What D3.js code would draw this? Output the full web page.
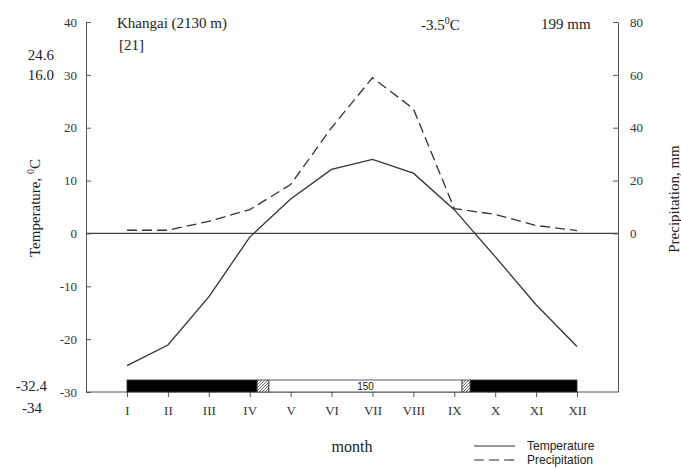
<!DOCTYPE html>
<html lang="en">
<head>
<meta charset="UTF-8" />
<title>Khangai climate diagram</title>
<script src="https://d3js.org/d3.v7.min.js"></script>
<style>
  body { margin: 0; background: #fff; }
  svg { display: block; }
  .serif { font-family: "Liberation Serif", "Times New Roman", serif; fill: #222; }
  .axis text { font-family: "Liberation Serif", "Times New Roman", serif; font-size: 13px; fill: #333; }
  .axis path, .axis line { stroke: #555; }
</style>
</head>
<body>
<script>
const months = ["I","II","III","IV","V","VI","VII","VIII","IX","X","XI","XII"];
const temperature = [-25.0, -21.1, -12.0, -0.7, 6.5, 12.1, 14.0, 11.4, 4.5, -4.4, -13.5, -21.4];
const precipitation = [1.2, 1.2, 4.6, 9.0, 18.5, 40.0, 58.9, 47.2, 9.4, 7.2, 3.0, 1.1];
const tempTicks = [-30, -20, -10, 0, 10, 20, 30, 40];
const precTicks = [0, 20, 40, 60, 80];
// frost-free period bar: month positions (1 = I)
const periods = [
  { from: 1, to: 4.18, kind: "frost" },
  { from: 4.18, to: 4.47, kind: "transition" },
  { from: 4.47, to: 9.19, kind: "free" },
  { from: 9.19, to: 9.39, kind: "transition" },
  { from: 9.39, to: 12, kind: "frost" }
];
const freeDays = 150;

const W = 681, H = 468;
const svg = d3.select("body").append("svg").attr("width", W).attr("height", H);

const defs = svg.append("defs");
const pat = defs.append("pattern")
  .attr("id", "hatch").attr("patternUnits", "userSpaceOnUse")
  .attr("width", 3).attr("height", 3);
pat.append("rect").attr("width", 3).attr("height", 3).attr("fill", "#fff");
pat.append("path").attr("d", "M-1,1 l2,-2 M0,3 l3,-3 M2,4 l2,-2")
  .attr("stroke", "#444").attr("stroke-width", 0.8);

const x = d3.scaleLinear().domain([1, 12]).range([127, 577]);
const yT = d3.scaleLinear().domain([-30, 40]).range([392, 22]);
const yP = d3.scaleLinear().domain([-60, 80]).range([392, 22]);
const left = 86, right = 618;

// frame lines
svg.append("line").attr("x1", left).attr("x2", right)
  .attr("y1", yT(-30)).attr("y2", yT(-30)).attr("stroke", "#555");
svg.append("line").attr("x1", left).attr("x2", right)
  .attr("y1", yT(0)).attr("y2", yT(0)).attr("stroke", "#444").attr("stroke-width", 1.2);

// left axis
svg.append("g").attr("class", "axis")
  .attr("transform", `translate(${left},0)`)
  .call(d3.axisLeft(yT).tickValues(tempTicks).tickFormat(d => String(d))
    .tickSizeInner(-5).tickSizeOuter(0).tickPadding(9));

// right axis
svg.append("g").attr("class", "axis")
  .attr("transform", `translate(${right},0)`)
  .call(d3.axisRight(yP).tickValues(precTicks).tickFormat(d => String(d))
    .tickSizeInner(-5).tickSizeOuter(0).tickPadding(12));

// bottom axis (ticks only)
const ba = svg.append("g").attr("class", "axis")
  .attr("transform", `translate(0,${yT(-30)})`)
  .call(d3.axisBottom(x).tickValues(d3.range(1, 13)).tickFormat(d => months[d - 1]).tickSize(5).tickPadding(9));
ba.select(".domain").remove();

// frost-free bar
const barTop = yT(-30) - 12;
svg.append("g").selectAll("rect").data(periods).join("rect")
  .attr("x", d => x(d.from)).attr("width", d => x(d.to) - x(d.from))
  .attr("y", barTop).attr("height", 12)
  .attr("fill", d => d.kind === "frost" ? "#000" : d.kind === "transition" ? "url(#hatch)" : "#fff")
  .attr("stroke", "#333").attr("stroke-width", 0.8);
const free = periods.find(p => p.kind === "free");
svg.append("text")
  .attr("x", x((free.from + free.to) / 2)).attr("y", barTop + 10)
  .attr("text-anchor", "middle")
  .attr("font-family", "Liberation Sans, Arial, sans-serif").attr("font-size", 10).attr("fill", "#222")
  .text(freeDays);

// lines
const tLine = d3.line().x((d, i) => x(i + 1)).y(d => yT(d));
const pLine = d3.line().x((d, i) => x(i + 1)).y(d => yP(d));
svg.append("path").datum(temperature).attr("d", tLine)
  .attr("fill", "none").attr("stroke", "#333").attr("stroke-width", 1.3);
svg.append("path").datum(precipitation).attr("d", pLine)
  .attr("fill", "none").attr("stroke", "#333").attr("stroke-width", 1.3)
  .attr("stroke-dasharray", "10,5");

// texts
svg.append("text").attr("class", "serif").attr("x", 117).attr("y", 28).attr("font-size", 15).text("Khangai (2130 m)");
svg.append("text").attr("class", "serif").attr("x", 119).attr("y", 50).attr("font-size", 15).text("[21]");
const mt = svg.append("text").attr("class", "serif").attr("x", 421).attr("y", 30).attr("font-size", 15);
mt.append("tspan").text("-3.5");
mt.append("tspan").attr("dy", -6).attr("font-size", 10).text("0");
mt.append("tspan").attr("dy", 6).text("C");
svg.append("text").attr("class", "serif").attr("x", 541).attr("y", 29).attr("font-size", 15).text("199 mm");

const sideLabels = [["24.6", 60, 54], ["16.0", 80, 54], ["-32.4", 391, 47], ["-34", 413, 42]];
svg.append("g").selectAll("text").data(sideLabels).join("text")
  .attr("class", "serif").attr("font-size", 15).attr("text-anchor", "end")
  .attr("x", d => d[2]).attr("y", d => d[1]).text(d => d[0]);

const yt = svg.append("text").attr("class", "serif").attr("font-size", 15)
  .attr("text-anchor", "middle")
  .attr("transform", "translate(40,208) rotate(-90)");
yt.append("tspan").text("Temperature, ");
yt.append("tspan").attr("dy", -6).attr("font-size", 10).text("0");
yt.append("tspan").attr("dy", 6).text("C");

svg.append("text").attr("class", "serif").attr("font-size", 15)
  .attr("text-anchor", "middle")
  .attr("transform", "translate(679,199) rotate(-90)")
  .text("Precipitation, mm");

svg.append("text").attr("class", "serif").attr("font-size", 16)
  .attr("text-anchor", "middle").attr("x", 352).attr("y", 452).text("month");

// legend
const legend = [["Temperature", null], ["Precipitation", "10,5"]];
const lg = svg.append("g").selectAll("g").data(legend).join("g")
  .attr("transform", (d, i) => `translate(474,${446 + i * 14})`);
lg.append("line").attr("x1", 0).attr("x2", 41)
  .attr("stroke", "#333").attr("stroke-width", 1.2)
  .attr("stroke-dasharray", d => d[1]);
lg.append("text").attr("x", 53).attr("y", 4)
  .attr("font-family", "Liberation Sans, Arial, sans-serif").attr("font-size", 12).attr("fill", "#222")
  .text(d => d[0]);
</script>
</body>
</html>
